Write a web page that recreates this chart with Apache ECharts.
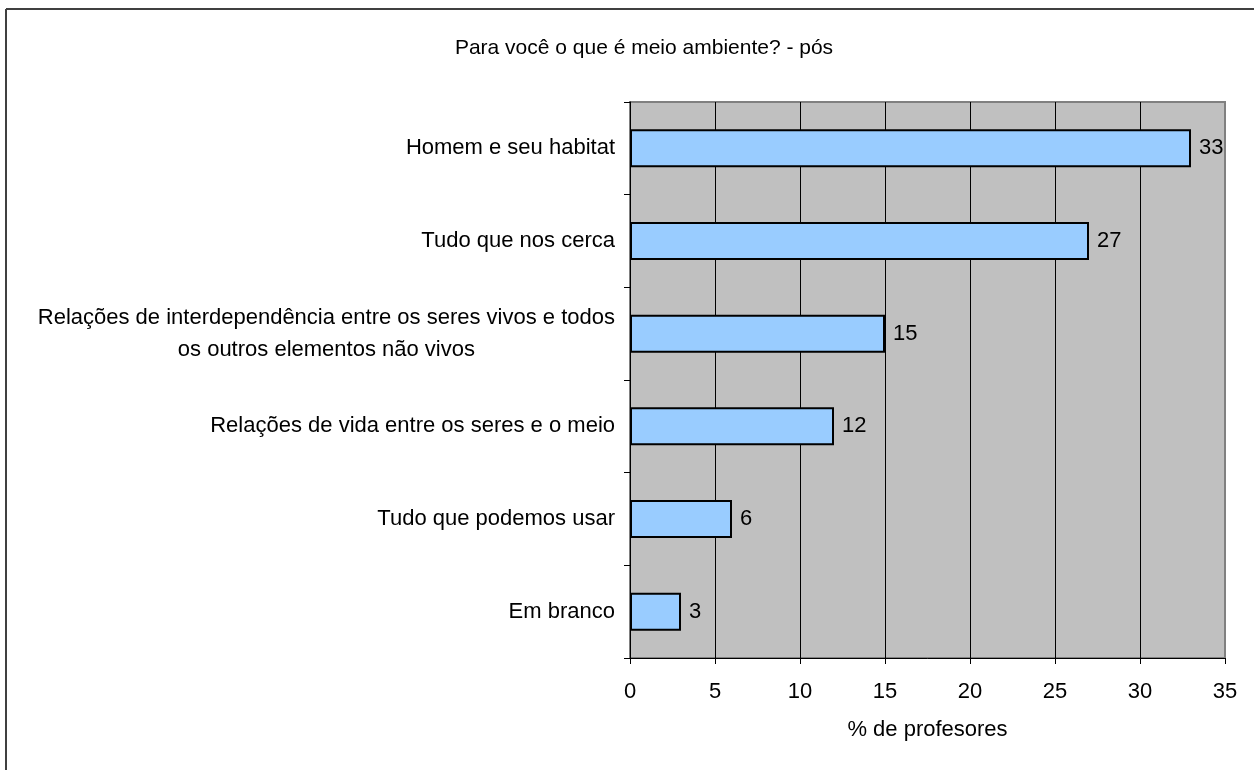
<!DOCTYPE html>
<html>
<head>
<meta charset="utf-8">
<script src="https://cdn.jsdelivr.net/npm/echarts@6/dist/echarts.min.js"></script>
<style>
html,body{margin:0;padding:0;background:#fff;}
#chart{width:1254px;height:770px;}
</style>
</head>
<body>
<div id="chart"></div>
<script>
const titleText = 'Para você o que é meio ambiente? - pós';
const xAxisName = '% de profesores';
// top to bottom
const categories = [
  'Homem e seu habitat',
  'Tudo que nos cerca',
  'Relações de interdependência entre os seres vivos e todos\nos outros elementos não vivos',
  'Relações de vida entre os seres e o meio',
  'Tudo que podemos usar',
  'Em branco'
];
const values = [33, 27, 15, 12, 6, 3];
const xMin = 0, xMax = 35, xStep = 5;

const font = '"Liberation Sans", Arial, sans-serif';
const fs = 22;
const chart = echarts.init(document.getElementById('chart'));
chart.setOption({
  animation: false,
  backgroundColor: '#fff',
  textStyle: {fontFamily: font},
  title: {
    text: titleText, left: 639, top: 33, textAlign: 'center',
    textStyle: {fontFamily: font, fontSize: 21, fontWeight: 'normal', color: '#000'}
  },
  graphic: [
    {type: 'line', shape: {x1: 6, y1: 9, x2: 1254, y2: 9}, style: {stroke: '#404040', lineWidth: 2}},
    {type: 'line', shape: {x1: 6, y1: 9, x2: 6, y2: 770}, style: {stroke: '#404040', lineWidth: 2}}
  ],
  grid: {
    left: 630, right: 29, top: 102, bottom: 112,
    show: true, backgroundColor: '#C0C0C0', borderColor: '#808080', borderWidth: 2
  },
  xAxis: {
    type: 'value', min: xMin, max: xMax, interval: xStep,
    name: xAxisName, nameLocation: 'middle', nameGap: 61,
    nameTextStyle: {fontFamily: font, fontSize: fs, color: '#000'},
    axisLine: {show: true, lineStyle: {color: '#000', width: 1}},
    axisTick: {show: true, length: 6, lineStyle: {color: '#000'}},
    axisLabel: {fontFamily: font, fontSize: fs, color: '#000', margin: 23},
    splitLine: {show: true, showMinLine: false, showMaxLine: false, lineStyle: {color: '#000', width: 1}}
  },
  yAxis: {
    type: 'category', data: categories, inverse: true,
    axisLine: {show: true, lineStyle: {color: '#000', width: 1}},
    axisTick: {show: true, length: 6, alignWithLabel: false, lineStyle: {color: '#000'}},
    axisLabel: {
      fontFamily: font, fontSize: fs, color: '#000', margin: 15, lineHeight: 32,
      formatter: function (v) {
        return v.split('\n').map(s => '{c|' + s + '}').join('\n');
      },
      rich: {c: {align: 'center', fontFamily: font, fontSize: fs, color: '#000', lineHeight: 32}}
    },
    splitLine: {show: false}
  },
  series: [{
    type: 'bar', data: values, barCategoryGap: '59%',
    itemStyle: {color: '#99CCFF', borderColor: '#000', borderWidth: 2},
    label: {show: true, position: 'right', distance: 8, fontFamily: font, fontSize: fs, color: '#000'}
  }]
});
</script>
</body>
</html>
